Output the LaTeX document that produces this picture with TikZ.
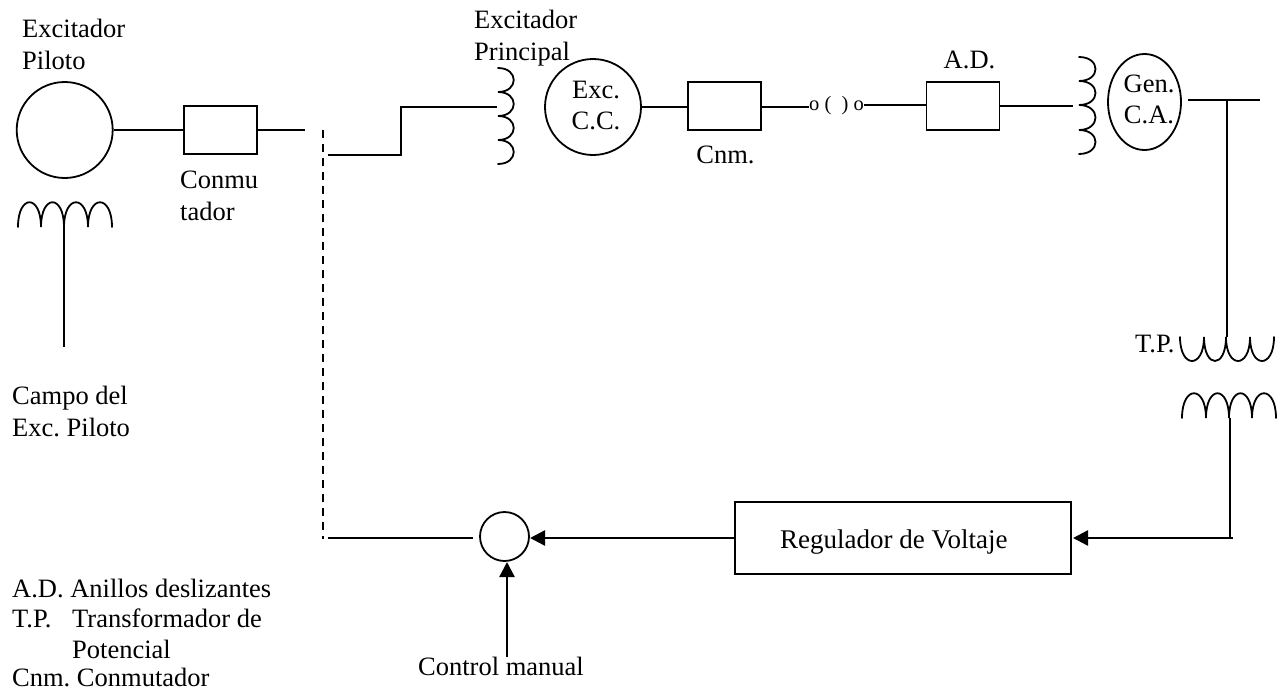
\documentclass[tikz,border=0pt]{standalone}
\usepackage{fontspec}
\setmainfont{Liberation Serif}
\usetikzlibrary{arrows.meta,shapes.geometric}
\tikzset{
 ln/.style={line width=1.8pt,black},
 arr/.style={line width=2.4pt,black,-{Triangle[length=15pt,width=15pt]},shorten >=0pt},
 bx/.style={draw,line width=1.8pt,minimum width=73pt,minimum height=48pt,inner sep=0pt},
 rnd/.style={draw,circle,line width=1.8pt,inner sep=0pt},
 lb/.style={inner sep=0pt,anchor=base west,font=\fontsize{26.5}{30}\selectfont\frenchspacing},
 lbc/.style={inner sep=0pt,anchor=base,font=\fontsize{26.5}{30}\selectfont\frenchspacing},
 coil/.style={line width=1.8pt,black,line cap=round},
}
\begin{document}
\begin{tikzpicture}[x=1pt,y=-1pt]
\useasboundingbox (0,0) rectangle (1280,691);
% generators
\node[rnd,minimum size=96pt] (pil) at (64.7,130) {};
\node[bx] (b1) at (220.5,130) {};
\coordinate (b1e) at (305,130);
\draw[ln] (pil) -- (b1);
\draw[ln] (b1) -- (b1e);
% dashed
\coordinate (d1) at (323,130);
\coordinate (d2) at (323,539);
\draw[ln,dash pattern=on 8pt off 6pt] (d1) -- (d2);
\coordinate (w1) at (328,155);
\coordinate (w2) at (401,155);
\coordinate (w3) at (401,107);
\coordinate (w4) at (497,107);
\draw[ln] (w1) -- (w2) -- (w3) -- (w4);
% main exciter coil
\draw[coil] (498,68) .. controls (519,68) and (519,92) .. (498,92)
 .. controls (519,92) and (519,116) .. (498,116)
 .. controls (519,116) and (519,140) .. (498,140)
 .. controls (519,140) and (519,164) .. (498,164);
\node[rnd,minimum size=96pt] (exc) at (593,107) {};
\node[bx] (b2) at (724.5,106) {};
\coordinate (s1) at (809,107);
\coordinate (b2e) at (761,107);
\coordinate (x2e) at (641,107);
\coordinate (b2w) at (688,107);
\draw[ln] (x2e) -- (b2w);
\draw[ln] (b2e) -- (s1);
\node[inner sep=0pt,anchor=base west,font=\fontsize{20.5}{24}\selectfont] (sw) at (809,110.5) {o ( \ ) o};
\node[bx] (b3) at (963,106) {};
\coordinate (s2) at (864,105);
\draw[ln] (s2) -- (b3.west |- s2);
\coordinate (c2) at (1073,106);
\draw[ln] (b3) -- (c2);
% gen coil
\draw[coil] (1079,57) .. controls (1101,57) and (1101,81) .. (1079,81)
 .. controls (1101,81) and (1101,105) .. (1079,105)
 .. controls (1101,105) and (1101,130) .. (1079,130)
 .. controls (1101,130) and (1101,154) .. (1079,154);
\node[draw,ellipse,line width=1.8pt,minimum width=73pt,minimum height=96pt,inner sep=0pt] (gen) at (1144.5,102) {};
\coordinate (t1) at (1188,100);
\coordinate (t2) at (1260,100);
\coordinate (t3) at (1227,100);
\coordinate (t4) at (1227,337);
\draw[ln] (t1) -- (t2);
\draw[ln] (t3) -- (t4);
% TP primary
\draw[coil] (1180,337) .. controls (1180,369) and (1204,369) .. (1204,337)
 .. controls (1204,369) and (1226,369) .. (1226,337)
 .. controls (1226,369) and (1250,369) .. (1250,337)
 .. controls (1250,369) and (1274,369) .. (1274,337);
% TP secondary
\draw[coil] (1182,418) .. controls (1182,385) and (1206,385) .. (1206,418)
 .. controls (1206,385) and (1229,385) .. (1229,418)
 .. controls (1229,385) and (1252,385) .. (1252,418)
 .. controls (1252,385) and (1276,385) .. (1276,418);
\coordinate (u1) at (1230,418);
\coordinate (u2) at (1230,538);
\coordinate (u3) at (1233,538);
\draw[ln] (u1) -- (u2);
% field coil
\draw[coil] (18,227) .. controls (18,194) and (41,194) .. (41,227)
 .. controls (41,194) and (64,194) .. (64,227)
 .. controls (64,194) and (88,194) .. (88,227)
 .. controls (88,194) and (112,194) .. (112,227);
\coordinate (f1) at (64,225);
\coordinate (f2) at (64,347);
\draw[ln] (f1) -- (f2);
% regulator
\node[bx,minimum width=336pt,minimum height=72pt] (reg) at (903,538) {};
\node[lb,font=\fontsize{27}{30}\selectfont] (regt) at (780,548) {Regulador de Voltaje};
\node[rnd,minimum size=49pt] (sum) at (504.5,536.5) {};
\coordinate (e1) at (1073,538);
\draw[arr] (u3) -- (e1);
\coordinate (r1) at (735,538);
\coordinate (r2) at (530,538);
\draw[arr] (r1) -- (r2);
\coordinate (m1) at (507,657);
\coordinate (m2) at (507,562);
\draw[arr] (m1) -- (m2);
\coordinate (k1) at (328,538);
\coordinate (k2) at (473,538);
\draw[ln] (k1) -- (k2);
% labels
\node[lb] (a1) at (22,37.5) {Excitador};
\node[lb] (a2) at (22,69.5) {Piloto};
\node[lb] (a3) at (180,188) {Conmu};
\node[lb] (a4) at (180,220) {tador};
\node[lb] (a5) at (474,28) {Excitador};
\node[lb] (a6) at (474,60) {Principal};
\node[lbc] (a7) at (596,98) {Exc.};
\node[lbc] (a8) at (596,129) {C.C.};
\node[lbc] (a9) at (725.5,163.5) {Cnm.};
\node[lbc] (a10) at (969.5,68) {A.D.};
\node[lbc] (a11) at (1149,92) {Gen.};
\node[lbc] (a12) at (1149,123) {C.A.};
\node[lb] (a13) at (1135,352) {T.P.};
\node[lb] (a14) at (12,404) {Campo del};
\node[lb] (a15) at (12,436) {Exc. Piloto};
\node[lb] (a16) at (418,675) {Control manual};
\node[lb] (l1) at (12,597) {A.D. Anillos deslizantes};
\node[lb] (l2) at (12,627) {T.P.};
\node[lb] (l2b) at (72,627) {Transformador de};
\node[lb] (l3) at (72,658) {Potencial};
\node[lb] (l4) at (12,686) {Cnm. Conmutador};
\end{tikzpicture}
\end{document}
